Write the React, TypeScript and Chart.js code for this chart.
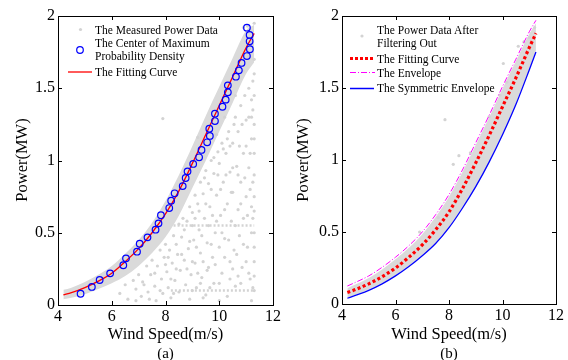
import React, { useEffect, useRef } from "react";
import { Chart, registerables } from "chart.js";
Chart.register(...registerables);

const FONT = '"Liberation Serif", "Times New Roman", serif';
const GRAY = "#d3d3d3";

// ---------- Panel (a) ----------
const fitSpeedA = [4.2, 4.5, 5, 5.5, 6, 6.5, 7, 7.5, 8, 8.5, 9, 9.5, 10, 10.5, 11, 11.3];
const fitPowerA = [0.07, 0.085, 0.12, 0.165, 0.22, 0.3, 0.39, 0.5, 0.63, 0.79, 0.98, 1.18, 1.38, 1.58, 1.78, 1.88];
const bandUpperA = [0.105, 0.12, 0.16, 0.21, 0.27, 0.355, 0.45, 0.57, 0.72, 0.9, 1.1, 1.31, 1.51, 1.71, 1.9, 1.94];
const bandLowerA = [0.04, 0.05, 0.075, 0.11, 0.15, 0.2, 0.27, 0.36, 0.47, 0.62, 0.81, 1.0, 1.2, 1.4, 1.6, 1.68];

const centerSpeedA = [4.84, 5.26, 5.55, 5.94, 6.43, 6.53, 6.94, 7.04, 7.33, 7.63, 7.74, 7.83, 8.14, 8.21, 8.34, 8.64,
  8.75, 8.82, 9.03, 9.25, 9.34, 9.55, 9.65, 9.63, 9.84, 9.84, 10.12, 10.24, 10.32, 10.32, 10.62, 10.73, 10.83, 11.03, 11.14, 11.13, 11.13, 11.03];
const centerPowerA = [0.078, 0.125, 0.173, 0.219, 0.275, 0.323, 0.369, 0.424, 0.468, 0.521, 0.565, 0.621, 0.671, 0.722, 0.773, 0.823,
  0.879, 0.925, 0.976, 1.022, 1.073, 1.126, 1.17, 1.22, 1.273, 1.324, 1.372, 1.421, 1.472, 1.52, 1.58, 1.624, 1.675, 1.723, 1.77, 1.825, 1.869, 1.919];

const measuredA: [number, number][] = [
  [6.3, 0.08], [6.5, 0.14], [6.6, 0.04], [6.8, 0.17], [6.9, 0.11], [7.0, 0.21], [7.1, 0.06], [7.15, 0.16],
  [7.3, 0.27], [7.35, 0.09], [7.45, 0.21], [7.5, 0.31], [7.6, 0.13], [7.65, 0.03], [7.7, 0.27], [7.8, 0.38],
  [7.85, 0.18], [7.9, 0.08], [7.95, 0.33], [8.0, 0.42], [8.05, 0.23], [8.1, 0.12], [8.15, 0.38], [8.2, 0.05],
  [8.25, 0.29], [8.3, 0.48], [8.35, 0.17], [8.4, 0.42], [8.45, 0.35], [8.5, 0.56], [8.5, 0.09], [8.55, 0.24],
  [8.6, 0.47], [8.65, 0.6], [8.7, 0.31], [8.75, 0.14], [8.8, 0.58], [8.85, 0.39], [8.9, 0.68], [8.9, 0.04],
  [8.95, 0.21], [9.0, 0.64], [9.05, 0.45], [9.1, 0.76], [9.1, 0.29], [9.15, 0.12], [9.2, 0.7], [9.25, 0.52],
  [9.3, 0.85], [9.3, 0.36], [9.35, 0.19], [9.4, 0.77], [9.45, 0.6], [9.5, 0.93], [9.5, 0.07], [9.55, 0.43],
  [9.6, 0.84], [9.6, 0.26], [9.65, 0.68], [9.7, 1.0], [9.75, 0.33], [9.8, 0.91], [9.8, 0.15], [9.85, 0.5],
  [9.9, 0.76], [9.95, 1.06], [10.0, 0.4], [10.0, 0.98], [10.05, 0.62], [10.1, 0.22], [10.1, 1.12], [10.15, 0.85],
  [10.2, 0.46], [10.25, 1.05], [10.3, 0.7], [10.3, 0.06], [10.35, 1.2], [10.4, 0.3], [10.4, 0.92], [10.45, 0.58],
  [10.5, 1.12], [10.5, 0.78], [10.55, 0.38], [10.6, 1.3], [10.6, 0.13], [10.65, 0.96], [10.7, 0.66], [10.7, 1.2],
  [10.75, 0.48], [10.8, 1.38], [10.8, 0.85], [10.85, 0.26], [10.9, 1.05], [10.9, 0.6], [10.95, 1.45], [11.0, 0.75],
  [11.0, 1.28], [11.05, 0.4], [11.1, 0.95], [11.1, 1.5], [11.15, 0.18], [11.2, 1.15], [11.2, 0.68], [11.25, 1.35],
  [11.25, 0.85], [11.3, 0.5], [11.3, 1.05], [11.3, 1.6], [11.3, 0.3], [11.2, 0.03], [10.0, 0.03], [9.0, 0.1],
  [11.3, 0.2], [11.3, 0.4], [11.3, 0.65], [11.3, 0.9], [11.3, 1.25], [11.3, 1.45], [11.3, 1.7], [11.2, 1.42],
  [10.9, 1.62], [11.1, 1.72], [11.2, 1.82], [10.6, 1.45], [10.2, 1.3], [9.9, 1.18], [10.7, 0.2], [9.4, 0.05],
  [8.6, 0.35], [8.7, 0.52], [8.8, 0.25], [8.9, 0.44], [9.0, 0.3], [9.0, 0.55], [9.1, 0.6], [9.15, 0.4],
  [9.2, 0.22], [9.25, 0.65], [9.3, 0.15], [9.35, 0.48], [9.4, 0.3], [9.45, 0.88], [9.5, 0.7], [9.55, 0.24],
  [9.6, 0.55], [9.65, 0.12], [9.7, 0.8], [9.7, 0.42], [9.75, 0.62], [9.8, 1.02], [9.85, 0.28], [9.9, 0.58],
  [9.95, 0.9], [10.0, 0.15], [10.05, 0.8], [10.1, 0.5], [10.15, 1.08], [10.2, 0.33], [10.2, 0.66], [10.25, 0.9],
  [10.3, 1.15], [10.35, 0.45], [10.4, 0.18], [10.4, 1.1], [10.45, 0.78], [10.5, 0.25], [10.5, 0.95], [10.55, 1.25],
  [10.6, 0.55], [10.65, 0.35], [10.7, 0.9], [10.75, 1.1], [10.8, 0.15], [10.8, 0.7], [10.85, 1.25], [10.9, 0.42],
  [10.95, 0.88], [11.0, 1.1], [11.0, 0.3], [11.05, 0.62], [11.1, 1.3], [11.1, 0.22], [11.15, 0.8], [11.15, 1.05],
  [11.2, 0.5], [11.2, 1.3], [11.25, 0.12], [11.25, 0.6], [11.25, 1.55], [11.3, 0.75], [11.3, 1.15], [11.3, 0.1],
  [8.0, 0.28], [8.2, 0.18], [8.4, 0.25], [7.6, 0.22], [7.8, 0.1], [8.1, 0.33], [8.3, 0.08], [7.4, 0.04],
  [6.9, 0.03], [7.2, 0.14],
  [7.9, 1.29], [10.9, 1.92], [11.3, 1.95], [9.2, 1.16], [11.05, 1.93],
];
const rowPowerA = [0.55, 0.1];
const rowStartA = [8.3, 8.2];
const rowEndA = [11.3, 11.3];

// ---------- Panel (b) ----------
const speedB = [4.2, 4.5, 5, 5.5, 6, 6.5, 7, 7.5, 8, 8.5, 9, 9.5, 10, 10.5, 11, 11.25];
const fitPowerB = [0.08, 0.1, 0.14, 0.19, 0.25, 0.325, 0.41, 0.515, 0.64, 0.8, 0.98, 1.17, 1.37, 1.57, 1.78, 1.88];
const envelopeB = [0.125, 0.15, 0.195, 0.255, 0.325, 0.405, 0.5, 0.62, 0.76, 0.93, 1.12, 1.31, 1.51, 1.7, 1.89, 1.97];
const symEnvelopeB = [0.04, 0.06, 0.095, 0.14, 0.195, 0.26, 0.335, 0.42, 0.53, 0.665, 0.815, 0.985, 1.175, 1.385, 1.625, 1.75];
const bandUpperB = [0.11, 0.135, 0.18, 0.24, 0.31, 0.39, 0.485, 0.605, 0.745, 0.915, 1.105, 1.295, 1.495, 1.685, 1.875, 1.95];
const bandLowerB = [0.045, 0.065, 0.1, 0.145, 0.2, 0.265, 0.34, 0.425, 0.535, 0.67, 0.82, 0.99, 1.18, 1.39, 1.63, 1.76];
const filteredB: [number, number][] = [
  [7.85, 1.28], [8.16, 0.97], [8.37, 1.03], [10.03, 1.67], [10.16, 1.54], [10.59, 1.79],
  [9.5, 1.3], [8.8, 1.05], [9.9, 1.45], [10.8, 1.82], [11.2, 1.92], [11.0, 1.85], [7.6, 0.6], [6.9, 0.5],
];

const xTicks = [4, 6, 8, 10, 12];
const yTicks = [0, 0.5, 1, 1.5, 2];

const zip = (xs: number[], ys: number[]) => xs.map((x, i) => ({ x, y: ys[i] }));

const framePlugin = {
  id: "frame",
  afterDraw(chart: any) {
    const { ctx, chartArea: a, scales } = chart;
    ctx.save();
    ctx.strokeStyle = "#000";
    ctx.lineWidth = 1;
    ctx.strokeRect(Math.round(a.left) + 0.5, Math.round(a.top) + 0.5, Math.round(a.right - a.left), Math.round(a.bottom - a.top));
    const L = 4;
    ctx.beginPath();
    xTicks.forEach((v) => {
      const px = Math.round(scales.x.getPixelForValue(v)) + 0.5;
      ctx.moveTo(px, a.bottom); ctx.lineTo(px, a.bottom - L);
      ctx.moveTo(px, a.top); ctx.lineTo(px, a.top + L);
    });
    yTicks.forEach((v) => {
      const py = Math.round(scales.y.getPixelForValue(v)) + 0.5;
      ctx.moveTo(a.left, py); ctx.lineTo(a.left + L, py);
      ctx.moveTo(a.right, py); ctx.lineTo(a.right - L, py);
    });
    ctx.stroke();
    ctx.restore();
  },
};

function makeOptions(pad: { left: number; right: number; top: number; bottom: number }) {
  return {
    responsive: false,
    animation: false as const,
    events: [],
    layout: { padding: pad },
    elements: { line: { cubicInterpolationMode: "monotone" } },
    plugins: { legend: { display: false }, tooltip: { enabled: false } },
    scales: {
      x: {
        type: "linear" as const,
        min: 4, max: 12,
        afterFit: (s: any) => { s.height = 22; },
        afterBuildTicks: (s: any) => { s.ticks = xTicks.map((v) => ({ value: v })); },
        grid: { display: false, drawTicks: false },
        border: { display: false },
        ticks: { color: "#000", padding: 2, font: { family: FONT, size: 16 }, maxRotation: 0, callback: (v: any) => String(v) },
      },
      y: {
        type: "linear" as const,
        min: 0, max: 2,
        afterFit: (s: any) => { s.width = 30; },
        afterBuildTicks: (s: any) => { s.ticks = yTicks.map((v) => ({ value: v })); },
        grid: { display: false, drawTicks: false },
        border: { display: false },
        ticks: { color: "#000", padding: 3, font: { family: FONT, size: 16 }, callback: (v: any) => String(v) },
      },
    },
  };
}

function PanelA() {
  const ref = useRef<HTMLCanvasElement>(null);
  useEffect(() => {
    const datasets: any[] = [
      { data: zip(fitSpeedA, bandUpperA), borderWidth: 0, pointRadius: 0, fill: "+1", backgroundColor: "#dadada", order: 6 },
      { data: zip(fitSpeedA, bandLowerA), borderWidth: 0, pointRadius: 0, fill: false, order: 7 },
      { data: measuredA.map(([x, y]) => ({ x, y })), showLine: false, pointRadius: 1.6, pointBorderWidth: 0, pointBackgroundColor: GRAY, order: 4 },
      ...rowPowerA.map((p, i) => ({
        data: [{ x: rowStartA[i], y: p }, { x: rowEndA[i], y: p }],
        borderColor: GRAY, borderWidth: 2.5, borderDash: [2, 2], pointRadius: 0, fill: false, order: 5,
      })),
      { data: zip(fitSpeedA, fitPowerA), borderColor: "#ff0000", borderWidth: 1.3, pointRadius: 0, fill: false, order: 1 },
      { data: zip(centerSpeedA, centerPowerA), showLine: false, pointRadius: 3.3, pointBorderWidth: 1.2, pointBorderColor: "#0000ff", pointBackgroundColor: "rgba(0,0,0,0)", order: 0 },
    ];
    const chart = new Chart(ref.current!, {
      type: "line",
      data: { datasets },
      options: makeOptions({ left: 28, right: 17, top: 16, bottom: 33 }) as any,
      plugins: [framePlugin],
    });
    return () => chart.destroy();
  }, []);
  return <canvas ref={ref} width={290} height={360} style={{ position: "absolute", left: 0, top: 0, width: 290, height: 360 }} />;
}

function PanelB() {
  const ref = useRef<HTMLCanvasElement>(null);
  useEffect(() => {
    const datasets: any[] = [
      { data: zip(speedB, bandUpperB), borderWidth: 0, pointRadius: 0, fill: "+1", backgroundColor: "#dadada", order: 6 },
      { data: zip(speedB, bandLowerB), borderWidth: 0, pointRadius: 0, fill: false, order: 7 },
      { data: filteredB.map(([x, y]) => ({ x, y })), showLine: false, pointRadius: 1.6, pointBorderWidth: 0, pointBackgroundColor: GRAY, order: 5 },
      { data: zip(speedB, symEnvelopeB), borderColor: "#0000ff", borderWidth: 1.3, pointRadius: 0, fill: false, order: 3 },
      { data: zip(speedB, envelopeB), borderColor: "#ff00ff", borderWidth: 1, borderDash: [6, 2, 1, 2], pointRadius: 0, fill: false, order: 2 },
      { data: zip(speedB, fitPowerB), borderColor: "#ff0000", borderWidth: 3.2, borderDash: [3, 2.5], pointRadius: 0, fill: false, order: 1 },
    ];
    const chart = new Chart(ref.current!, {
      type: "line",
      data: { datasets },
      options: makeOptions({ left: 22, right: 12, top: 16, bottom: 34 }) as any,
      plugins: [framePlugin],
    });
    return () => chart.destroy();
  }, []);
  return <canvas ref={ref} width={278} height={360} style={{ position: "absolute", left: 290, top: 0, width: 278, height: 360 }} />;
}

const txt = (left: number, top: number, size: number, lh: number): React.CSSProperties => ({
  position: "absolute", left, top, fontFamily: FONT, fontSize: size, lineHeight: `${lh}px`, color: "#000", whiteSpace: "nowrap",
});

export default function App() {
  return (
    <div style={{ position: "fixed", left: 0, top: 0, width: 568, height: 360, background: "#fff", overflow: "hidden" }}>
      <PanelA />
      <PanelB />
      <svg width={568} height={360} style={{ position: "absolute", left: 0, top: 0, pointerEvents: "none" }}>
        <circle cx={80.5} cy={29.5} r={1.6} fill={GRAY} />
        <circle cx={80} cy={50} r={3.3} fill="none" stroke="#0000ff" strokeWidth={1.2} />
        <line x1={68} y1={72} x2={92} y2={72} stroke="#ff0000" strokeWidth={1.3} />
        <circle cx={362} cy={36} r={1.6} fill={GRAY} />
        <line x1={350} y1={58.5} x2={373} y2={58.5} stroke="#ff0000" strokeWidth={3.2} strokeDasharray="3 2" />
        <line x1={350} y1={72.5} x2={375} y2={72.5} stroke="#ff00ff" strokeWidth={1} strokeDasharray="6 2 1 2" />
        <line x1={350} y1={88.5} x2={374} y2={88.5} stroke="#0000ff" strokeWidth={1.5} />
      </svg>
      {/* legend (a) */}
      <div style={txt(95, 22.5, 11.5, 14)}>The Measured Power Data</div>
      <div style={txt(95, 36.8, 11.5, 13.6)}>The Center of Maximum<br />Probability Density</div>
      <div style={txt(95, 65, 11.5, 14)}>The Fitting Curve</div>
      {/* legend (b) */}
      <div style={txt(377, 24, 11.5, 12.6)}>The Power Data After<br />Filtering Out</div>
      <div style={txt(377, 51.5, 11.5, 14)}>The Fitting Curve</div>
      <div style={txt(377, 65.8, 11.5, 14)}>The Envelope</div>
      <div style={txt(377, 81.3, 11.5, 14)}>The Symmetric Envelope</div>
      {/* axis titles */}
      <div style={{ ...txt(22, 160, 16.5, 18), transform: "translate(-50%, -50%) rotate(-90deg)" }}>Power(MW)</div>
      <div style={{ ...txt(303, 160, 16.5, 18), transform: "translate(-50%, -50%) rotate(-90deg)" }}>Power(MW)</div>
      <div style={{ ...txt(165.5, 334, 16.5, 18), transform: "translate(-50%, -50%)" }}>Wind Speed(m/s)</div>
      <div style={{ ...txt(449, 334, 16.5, 18), transform: "translate(-50%, -50%)" }}>Wind Speed(m/s)</div>
      <div style={{ ...txt(165.5, 353, 15, 16), transform: "translate(-50%, -50%)" }}>(a)</div>
      <div style={{ ...txt(449, 353, 15, 16), transform: "translate(-50%, -50%)" }}>(b)</div>
    </div>
  );
}
